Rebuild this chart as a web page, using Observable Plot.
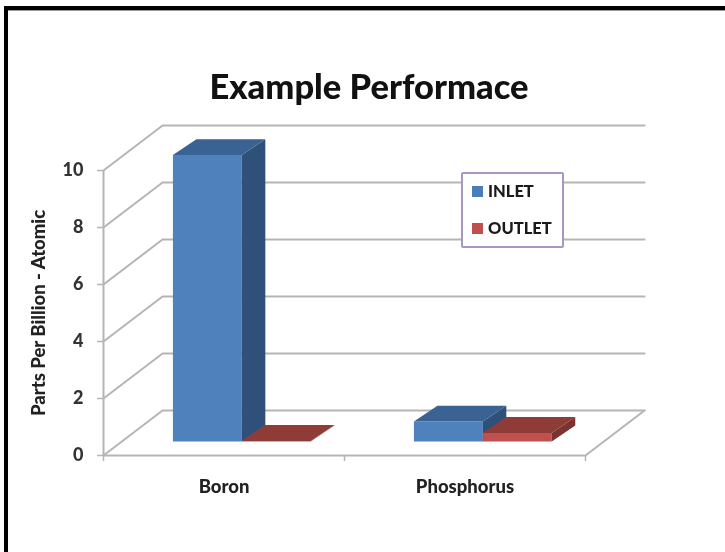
<!DOCTYPE html>
<html>
<head>
<meta charset="utf-8">
<script src="https://cdn.jsdelivr.net/npm/d3@7"></script>
<script src="https://cdn.jsdelivr.net/npm/@observablehq/plot@0.6"></script>
<style>
  html, body { margin: 0; padding: 0; background: #fff; }
  #page { position: relative; width: 725px; height: 552px; overflow: hidden; font-family: Lato, "Open Sans", sans-serif; }
  #frame { position: absolute; left: 4px; top: 6px; width: 721px; height: 546px; box-sizing: border-box;
           border-top: 4px solid #000; border-left: 4px solid #000; box-shadow: inset 0 1px 0 #999; }
  #title { position: absolute; left: 0; top: 66px; width: 738px; text-align: center; font-size: 34.5px; font-weight: 900; color: #111; line-height: 40px; filter: blur(0.5px); }
  #legend { position: absolute; left: 461px; top: 172px; width: 103px; height: 76px; box-sizing: border-box;
            background: #fff; border: 2px solid #a898c0; border-radius: 2px; font-size: 16.5px; font-weight: 900; color: #1a1a1a; filter: blur(0.5px); }
  #legend div { position: absolute; left: 9px; display: flex; align-items: center; gap: 5px; line-height: 18px; }
  #legend i { display: inline-block; width: 11px; height: 11px; }
  #chart { position: absolute; left: 0; top: 0; filter: blur(0.6px); }
  #chart svg { background: transparent; }
  #chart svg text { font-weight: 900; }
</style>
</head>
<body>
<div id="page">
  <div id="chart"></div>
  <div id="frame"></div>
  <div id="title"></div>
  <div id="legend"></div>
</div>
<script>
const title = "Example Performace";
const yLabel = "Parts Per Billion - Atomic";
const categories = ["Boron", "Phosphorus"];
const seriesNames = ["INLET", "OUTLET"];
const inletValues = [10.05, 0.7];
const outletValues = [0.02, 0.3];
const yTicks = [0, 2, 4, 6, 8, 10];
const faceColors = {
  INLET:  {front: "#4f81bd", side: "#2f5078", top: "#3a6292"},
  OUTLET: {front: "#c0504d", side: "#7a3331", top: "#8f3b38"}
};
const legendColors = {INLET: "#4a7ebb", OUTLET: "#c0504d"};

// 3-D projection, in the units of the two scales (x: one unit per category, y: the value axis)
const wallDX = 0.245, wallDY = 1.58;
const barDX = 0.0975, barDY = 0.56;
const barStart = 0.288, barWidth = 0.286, floorLift = 0.49;

// back wall, side wall and floor
const wall = yTicks.map(t => [
  {x: 0, y: t}, {x: wallDX, y: t + wallDY}, {x: 2 + wallDX, y: t + wallDY}
]);
const floorEdge = [{x: 2, y: 0}, {x: 2 + wallDX, y: wallDY}];

// one closed polygon per visible bar face
const faces = [];
categories.forEach((c, i) => {
  seriesNames.forEach((s, j) => {
    const v = (j === 0 ? inletValues : outletValues)[i];
    const x0 = i + barStart + j * barWidth, x1 = x0 + barWidth;
    const y0 = floorLift, y1 = floorLift + v;
    const col = faceColors[s];
    const add = (fill, pts) => faces.push({fill, pts: pts.map(([x, y]) => ({x, y}))});
    add(col.front, [[x0, y0], [x1, y0], [x1, y1], [x0, y1]]);
    add(col.side,  [[x1, y0], [x1 + barDX, y0 + barDY], [x1 + barDX, y1 + barDY], [x1, y1]]);
    add(col.top,   [[x0, y1], [x1, y1], [x1 + barDX, y1 + barDY], [x0 + barDX, y1 + barDY]]);
  });
});

const gridStroke = "#b5b5b5";
const plot = Plot.plot({
  width: 725, height: 552,
  marginLeft: 103, marginRight: 140, marginTop: 170, marginBottom: 97,
  style: {background: "transparent", overflow: "visible"},
  x: {domain: [0, 2]},
  y: {domain: [0, 10]},
  marks: [
    ...wall.map(line => Plot.line(line, {x: "x", y: "y", stroke: gridStroke, strokeWidth: 2})),
    Plot.line(floorEdge, {x: "x", y: "y", stroke: gridStroke, strokeWidth: 2}),
    Plot.ruleX([0], {y1: 0, y2: 10, stroke: gridStroke, strokeWidth: 2}),
    Plot.ruleY([0], {x1: 0, x2: 2, stroke: gridStroke, strokeWidth: 2}),
    Plot.axisX({ticks: [0, 1, 2], tickSize: 6, tickFormat: () => "", stroke: gridStroke, strokeWidth: 1.5, label: null}),
    Plot.axisX({
      ticks: [0.5, 1.5], tickSize: 0, tickPadding: 24, label: null,
      tickFormat: d => categories[Math.floor(d)],
      fontSize: 18.5, fill: "#222", fontFamily: "Lato"
    }),
    Plot.axisY({
      ticks: yTicks, tickSize: 6, tickPadding: 14,
      stroke: gridStroke, strokeWidth: 1.5,
      fontSize: 18, fill: "#333", fontFamily: "Lato",
      label: null
    }),
    Plot.axisY({
      ticks: [], tickSize: 0,
      label: yLabel, labelAnchor: "center", labelArrow: "none", labelOffset: 72,
      fontSize: 18.5, fill: "#222", fontFamily: "Lato"
    }),
    ...faces.map(f => Plot.line(f.pts, {x: "x", y: "y", fill: f.fill, stroke: "none", curve: "linear-closed"}))
  ]
});
document.getElementById("chart").append(plot);

document.getElementById("title").textContent = title;
const legend = document.getElementById("legend");
seriesNames.forEach((s, j) => {
  const row = document.createElement("div");
  row.style.top = (j === 0 ? 8 : 45) + "px";
  const sw = document.createElement("i");
  sw.style.background = legendColors[s];
  row.append(sw, document.createTextNode(s));
  legend.append(row);
});
</script>
</body>
</html>
